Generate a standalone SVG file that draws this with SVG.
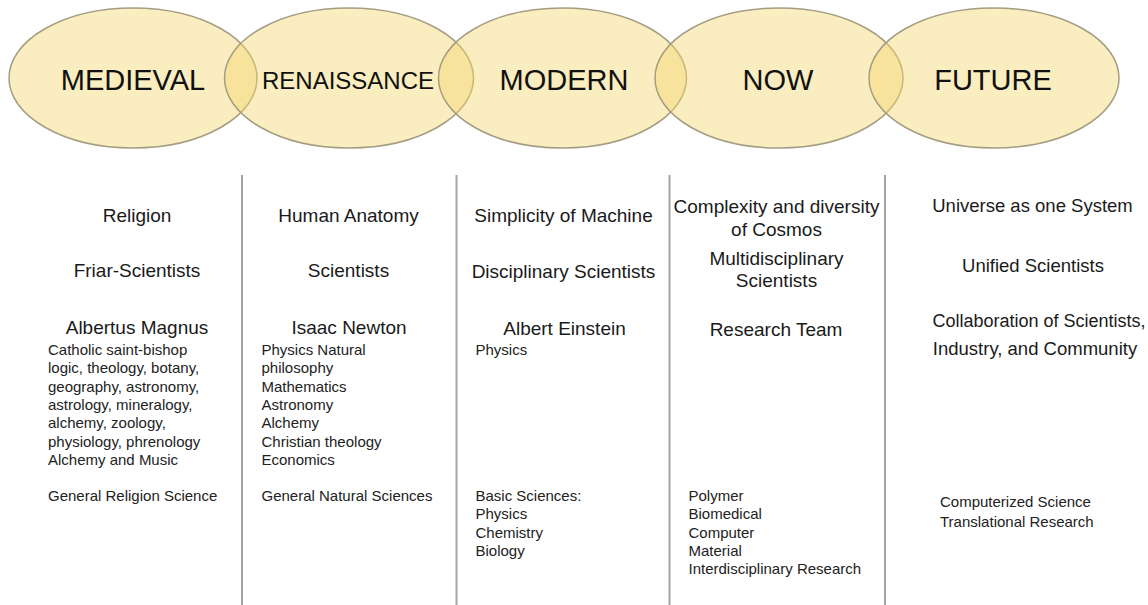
<svg xmlns="http://www.w3.org/2000/svg" width="1148" height="605" viewBox="0 0 1148 605">
<style>
.bg{fill:#ffffff}
.era{fill:#f5d870;fill-opacity:0.45;stroke:#a59d83;stroke-width:1.5}
.lbl{font-family:"Liberation Sans",Arial,sans-serif;font-size:29px;fill:#111;text-anchor:middle}
.hd{font-family:"Liberation Sans",Arial,sans-serif;font-size:19px;fill:#1a1a1a;text-anchor:middle}
.sm{font-family:"Liberation Sans",Arial,sans-serif;font-size:15px;fill:#222}
.div{stroke:#a3a3a3;stroke-width:2;fill:none}
</style>
<rect class="bg" x="0" y="0" width="1148" height="605"/>
<g id="medieval">
<ellipse class="era" cx="133" cy="78" rx="124" ry="70"/>
<text class="lbl" x="133" y="90">MEDIEVAL</text>
</g>
<g id="renaissance">
<ellipse class="era" cx="349" cy="78" rx="124.5" ry="70"/>
<text class="lbl" x="348" y="89" style="font-size:24px">RENAISSANCE</text>
</g>
<g id="modern">
<ellipse class="era" cx="562.5" cy="78" rx="124" ry="70"/>
<text class="lbl" x="564" y="90">MODERN</text>
</g>
<g id="now">
<ellipse class="era" cx="779" cy="78" rx="124" ry="70"/>
<text class="lbl" x="778" y="90">NOW</text>
</g>
<g id="future">
<ellipse class="era" cx="994" cy="78" rx="125" ry="70"/>
<text class="lbl" x="993" y="90">FUTURE</text>
</g>
<g id="dividers">
<line class="div" x1="242" y1="175" x2="242" y2="605"/>
<line class="div" x1="456.5" y1="175" x2="456.5" y2="605"/>
<line class="div" x1="669.5" y1="175" x2="669.5" y2="605"/>
<line class="div" x1="885" y1="175" x2="885" y2="605"/>
</g>
<g id="col-medieval">
<text class="hd" x="137" y="221.5">Religion</text>
<text class="hd" x="137" y="277">Friar-Scientists</text>
<text class="hd" x="137" y="334">Albertus Magnus</text>
<text class="sm" x="48" y="355">Catholic saint-bishop</text>
<text class="sm" x="48" y="373.3">logic, theology, botany,</text>
<text class="sm" x="48" y="391.7">geography, astronomy,</text>
<text class="sm" x="48" y="410">astrology, mineralogy,</text>
<text class="sm" x="48" y="428.3">alchemy, zoology,</text>
<text class="sm" x="48" y="446.7">physiology, phrenology</text>
<text class="sm" x="48" y="465">Alchemy and Music</text>
<text class="sm" x="48" y="501">General Religion Science</text>
</g>
<g id="col-renaissance">
<text class="hd" x="348.5" y="221.5">Human Anatomy</text>
<text class="hd" x="348.5" y="277">Scientists</text>
<text class="hd" x="349" y="334">Isaac Newton</text>
<text class="sm" x="261.5" y="355">Physics Natural</text>
<text class="sm" x="261.5" y="373.3">philosophy</text>
<text class="sm" x="261.5" y="391.7">Mathematics</text>
<text class="sm" x="261.5" y="410">Astronomy</text>
<text class="sm" x="261.5" y="428.3">Alchemy</text>
<text class="sm" x="261.5" y="446.7">Christian theology</text>
<text class="sm" x="261.5" y="465">Economics</text>
<text class="sm" x="261.5" y="501">General Natural Sciences</text>
</g>
<g id="col-modern">
<text class="hd" x="563.5" y="221.5">Simplicity of Machine</text>
<text class="hd" x="563.5" y="278">Disciplinary Scientists</text>
<text class="hd" x="564.5" y="335">Albert Einstein</text>
<text class="sm" x="475.5" y="355">Physics</text>
<text class="sm" x="475.5" y="501">Basic Sciences:</text>
<text class="sm" x="475.5" y="519.3">Physics</text>
<text class="sm" x="475.5" y="537.7">Chemistry</text>
<text class="sm" x="475.5" y="556">Biology</text>
</g>
<g id="col-now">
<text class="hd" x="776.5" y="213.3">Complexity and diversity</text>
<text class="hd" x="776.5" y="236">of Cosmos</text>
<text class="hd" x="776.5" y="265">Multidisciplinary</text>
<text class="hd" x="776.5" y="287">Scientists</text>
<text class="hd" x="776" y="335.5">Research Team</text>
<text class="sm" x="688.5" y="501">Polymer</text>
<text class="sm" x="688.5" y="519.3">Biomedical</text>
<text class="sm" x="688.5" y="537.7">Computer</text>
<text class="sm" x="688.5" y="556">Material</text>
<text class="sm" x="688.5" y="574.3">Interdisciplinary Research</text>
</g>
<g id="col-future">
<text class="hd" x="1032.5" y="212" style="font-size:18.5px">Universe as one System</text>
<text class="hd" x="1033" y="271.7" style="font-size:18.5px">Unified Scientists</text>
<text class="hd" x="1039" y="326.7" style="font-size:18px">Collaboration of Scientists,</text>
<text class="hd" x="1035" y="355" style="font-size:18.5px">Industry, and Community</text>
<text class="sm" x="940" y="507">Computerized Science</text>
<text class="sm" x="940" y="526.5">Translational Research</text>
</g>
</svg>
